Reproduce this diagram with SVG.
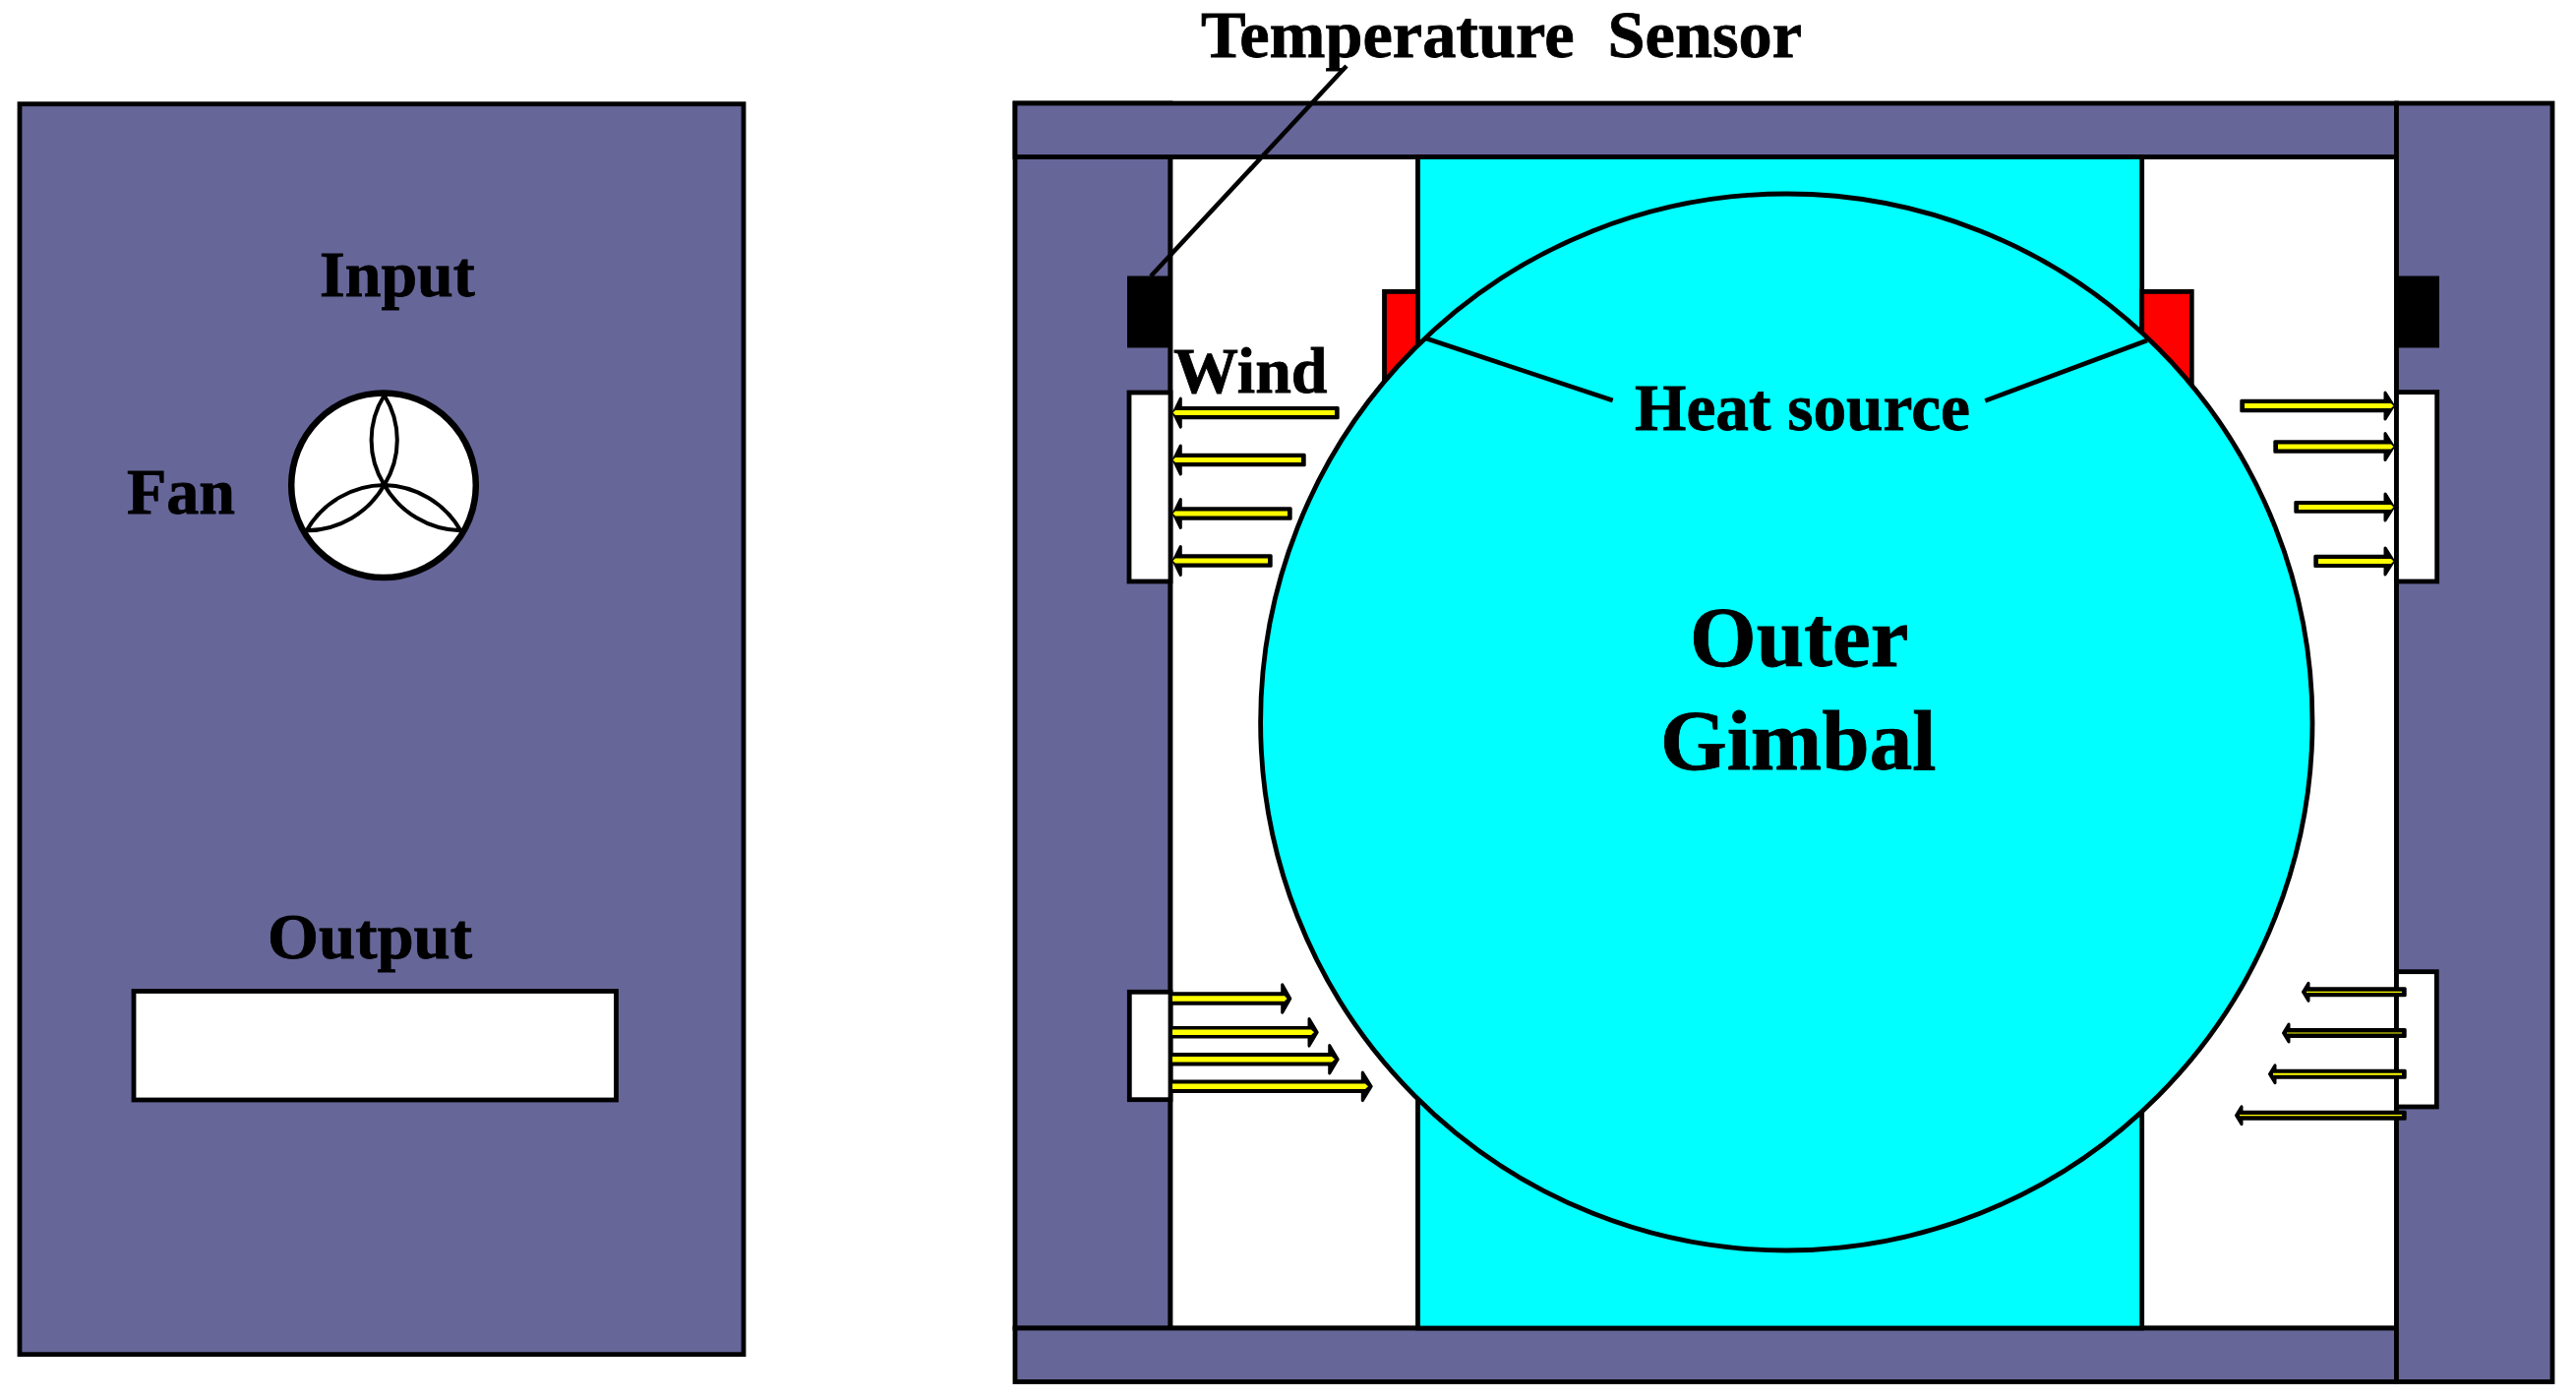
<svg xmlns="http://www.w3.org/2000/svg" width="2619" height="1422" viewBox="0 0 2619 1422">
<style>
.p{fill:#666699;stroke:#000;stroke-width:4.8}
.w{fill:#fff;stroke:#000;stroke-width:4.8}
.c{fill:#00ffff;stroke:#000;stroke-width:4.8}
.r{fill:#ff0000;stroke:#000;stroke-width:4.8}
.b{fill:#000;stroke:#000;stroke-width:1}
.l{fill:none;stroke:#000;stroke-width:4.6}
.k{fill:#000;stroke:#000;stroke-width:3;stroke-linejoin:round}
.y{fill:#ffff00}
.f{fill:none;stroke:#000;stroke-width:4}
text{font-family:"Liberation Serif","Times New Roman",serif;font-weight:700;fill:#000;stroke:#000;stroke-width:.8;white-space:pre}
.t66{font-size:66px}.t68{font-size:68px}.t87{font-size:87px}
</style>
<rect width="2619" height="1422" fill="#fff"/>
<g id="fan-panel">
<rect class="p" x="20" y="105.700" width="736" height="1271"/>
<rect class="w" x="136" y="1007.500" width="490.500" height="110.500"/>
<g id="fan">
<circle cx="390" cy="493.300" r="93.800" fill="#fff" stroke="#000" stroke-width="6.500"/>
<path class="f" d="M390.700 401.700A86 86 0 0 0 390.700 493A86 86 0 0 0 390.700 401.700Z"/>
<path class="f" d="M390.700 493A92 92 0 0 0 311.700 539.300A92 92 0 0 0 390.700 493Z"/>
<path class="f" d="M390.700 493A92 92 0 0 1 468.300 539.300A92 92 0 0 1 390.700 493Z"/>
</g>
<text class="t66" x="325" y="300.700">Input</text>
<text class="t66" x="129" y="521.700">Fan</text>
<text class="t66" x="272" y="973.500" textLength="208" lengthAdjust="spacingAndGlyphs">Output</text>
</g>
<g id="housing">
<rect class="p" x="1032" y="105" width="158" height="1245"/>
<rect class="w" x="1190" y="159.500" width="1246.500" height="1190.500"/>
<rect class="p" x="1032" y="105" width="1404.500" height="54.500"/>
<rect class="p" x="1032" y="1350" width="1404.500" height="54.500"/>
<rect class="p" x="2436.500" y="105" width="158.500" height="1299.500"/>
</g>
<g id="inner-gimbal">
<rect class="c" x="1441.500" y="159.500" width="736.200" height="1190.500"/>
</g>
<g id="heat-source-left"><rect class="r" x="1407.500" y="296.400" width="34" height="110"/></g>
<g id="heat-source-right"><rect class="r" x="2177.700" y="296.400" width="50.600" height="110"/></g>
<g id="outer-gimbal">
<ellipse class="c" cx="1816.300" cy="734" rx="534.700" ry="537"/>
<text class="t87" x="1718" y="676.700">Outer</text>
<text class="t87" x="1688" y="781.700">Gimbal</text>
</g>
<g id="sensor-left"><rect class="b" x="1146.500" y="281" width="45" height="72"/></g>
<g id="sensor-right"><rect class="b" x="2436.500" y="281" width="43" height="72"/></g>
<g id="vent-top-left"><rect class="w" x="1148" y="399" width="42" height="192"/></g>
<g id="vent-top-right"><rect class="w" x="2436.500" y="398.600" width="41.200" height="192.400"/></g>
<g id="vent-bottom-left"><rect class="w" x="1148.300" y="1008.300" width="41.700" height="109.400"/></g>
<g id="vent-bottom-right"><rect class="w" x="2436.500" y="987.700" width="40.800" height="137.300"/></g>
<g id="connectors">
<path class="l" d="M1170 280.700L1369 67"/>
<path class="l" d="M1450 344L1639.700 407"/>
<path class="l" d="M2183 346L2018.300 407.300"/>
</g>
<g id="wind-arrows">
<path class="k" d="M1360.200 414.400H1200.300V405.100L1193.200 419.600L1200.300 434.100V424.800H1360.200Z"/><path class="y" d="M1357 417.100H1195L1192.500 419.600L1195 422.100H1357Z"/>
<path class="k" d="M1326.200 462.300H1200.300V453L1193.200 467.500L1200.300 482V472.700H1326.200Z"/><path class="y" d="M1323 465H1195L1192.500 467.500L1195 470H1323Z"/>
<path class="k" d="M1312.200 516.800H1200.300V507.500L1193.200 522L1200.300 536.500V527.200H1312.200Z"/><path class="y" d="M1309 519.500H1195L1192.500 522L1195 524.500H1309Z"/>
<path class="k" d="M1292.200 564.800H1200.300V555.500L1193.200 570L1200.300 584.500V575.200H1292.200Z"/><path class="y" d="M1289 567.500H1195L1192.500 570L1195 572.500H1289Z"/>
<path class="k" d="M2278.800 407.300H2425V399L2433.500 412.500L2425 426V417.700H2278.800Z"/><path class="y" d="M2282 410H2431L2433.500 412.500L2431 415H2282Z"/>
<path class="k" d="M2312.800 448.800H2425V440.500L2433.500 454L2425 467.500V459.200H2312.800Z"/><path class="y" d="M2316 451.500H2431L2433.500 454L2431 456.500H2316Z"/>
<path class="k" d="M2333.800 510.500H2425V501.900L2433.500 515.400L2425 528.900V520.300H2333.800Z"/><path class="y" d="M2337 512.900H2431L2433.500 515.400L2431 517.900H2337Z"/>
<path class="k" d="M2353.800 565.200H2425V556.900L2433.500 570.400L2425 583.900V575.600H2353.800Z"/><path class="y" d="M2357 567.900H2431L2433.500 570.400L2431 572.900H2357Z"/>
<path class="k" d="M1192 1009.800H1303.700V1000.700L1311.800 1015L1303.700 1029.300V1020.200H1192Z"/><path class="y" d="M1192 1012.300H1306L1308.600 1015L1306 1017.700H1192Z"/>
<path class="k" d="M1192 1044.500H1331V1035.500L1339.200 1049.300L1331 1063.100V1054.100H1192Z"/><path class="y" d="M1192 1046.600H1333L1336 1049.300L1333 1052H1192Z"/>
<path class="k" d="M1192 1071.500H1351.700V1062.400L1360.200 1076.700L1351.700 1091V1081.900H1192Z"/><path class="y" d="M1192 1074H1354L1357 1076.700L1354 1079.400H1192Z"/>
<path class="k" d="M1192 1099.100H1385.300V1090L1394.200 1104.300L1385.300 1118.600V1109.500H1192Z"/><path class="y" d="M1192 1101.600H1388L1391 1104.300L1388 1107H1192Z"/>
<path class="k" d="M2445.200 1004.800H2347V999.300L2341.500 1008.300L2347 1017.300V1011.800H2445.200Z"/><path class="y" d="M2442 1007.700H2345V1008.900H2442Z"/>
<path class="k" d="M2445.200 1046.500H2327V1041L2321.500 1050L2327 1059V1053.500H2445.200Z"/><path class="y" d="M2442 1049.400H2325V1050.600H2442Z"/>
<path class="k" d="M2445.200 1088.200H2313V1082.700L2307.500 1091.700L2313 1100.700V1095.200H2445.200Z"/><path class="y" d="M2442 1090.700H2311V1092.700H2442Z"/>
<path class="k" d="M2445.200 1130.200H2279V1124.700L2273.500 1133.700L2279 1142.700V1137.200H2445.200Z"/><path class="y" d="M2442 1133.100H2277V1134.300H2442Z"/>
</g>
<g id="labels">
<text class="t68" x="1221" y="58.300" textLength="611" lengthAdjust="spacingAndGlyphs">Temperature  Sensor</text>
<text class="t66" x="1193" y="398.500">Wind</text>
<text class="t68" x="1662" y="436.700" textLength="341" lengthAdjust="spacingAndGlyphs">Heat source</text>
</g>
</svg>
